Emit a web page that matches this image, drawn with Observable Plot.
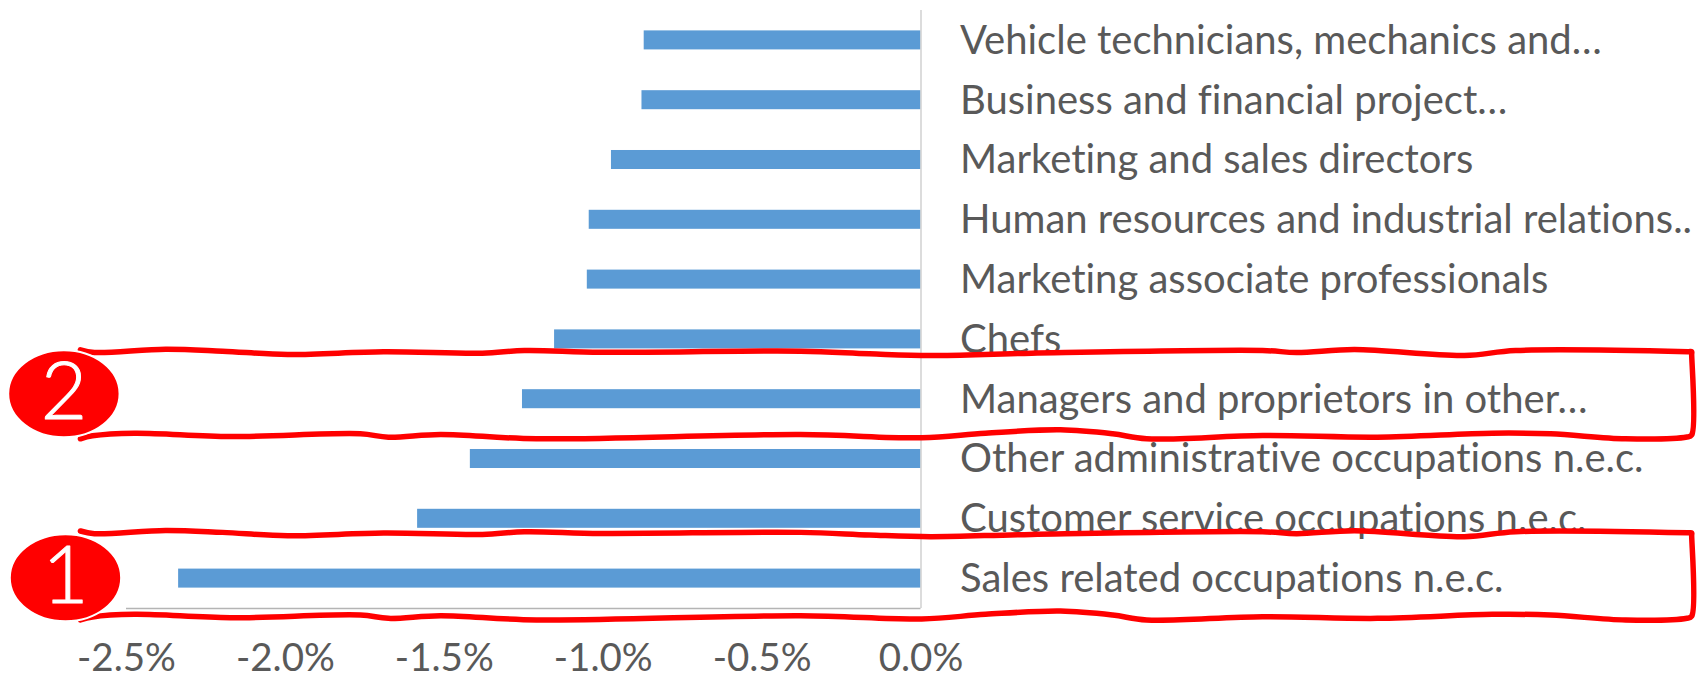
<!DOCTYPE html>
<html>
<head>
<meta charset="utf-8">
<style>html,body{margin:0;padding:0;background:#fff;overflow:hidden}</style>
<script src="https://cdn.jsdelivr.net/npm/d3@7"></script>
<script src="https://cdn.jsdelivr.net/npm/@observablehq/plot@0.6"></script>
</head>
<body>
<script>
const occupations = [
  "Vehicle technicians, mechanics and…",
  "Business and financial project…",
  "Marketing and sales directors",
  "Human resources and industrial relations..",
  "Marketing associate professionals",
  "Chefs",
  "Managers and proprietors in other…",
  "Other administrative occupations n.e.c.",
  "Customer service occupations n.e.c.",
  "Sales related occupations n.e.c."
];
const changes = [-0.871, -0.878, -0.974, -1.044, -1.05, -1.153, -1.254, -1.418, -1.584, -2.336];
const ticks = [-2.5, -2, -1.5, -1, -0.5, 0];

// Hand-drawn highlight outline, in chart units (percent, row)
const outlineX = [-2.645,-2.601,-2.377,-2.198,-1.993,-1.691,-1.38,-1.248,-1.008,-0.379,-0.162,0.03,0.348,1.075,1.182,1.364,1.71,1.871,2.415,2.425,2.425,2.425,2.41,2.217,1.981,1.798,1.436,1.075,0.71,0.603,0.439,0.203,0.002,-0.379,-1.21,-1.512,-1.676,-1.764,-2.173,-2.475,-2.607,-2.645];
const outlineY = [5.174,5.219,5.164,5.197,5.253,5.207,5.231,5.186,5.214,5.197,5.241,5.269,5.231,5.186,5.219,5.169,5.269,5.186,5.205,5.207,5.25,6.6,6.632,6.662,6.579,6.568,6.635,6.607,6.662,6.579,6.512,6.568,6.645,6.59,6.662,6.59,6.635,6.579,6.624,6.568,6.612,6.662];
const highlightShift = [0, 3.03];
const badges = [
  {label: "2", x: -2.697, y: 5.91},
  {label: "1", x: -2.692, y: 8.987}
];

const rows = occupations.map((name, i) => ({name, value: changes[i], row: i}));
const outlines = highlightShift.flatMap((shift, id) =>
  outlineX.map((x, i) => ({id, x, y: outlineY[i] + shift})));

const ellipse = {
  draw(ctx, size) {
    const ry = Math.sqrt(size / Math.PI), rx = ry * 1.28, k = 0.5523;
    ctx.moveTo(rx, 0);
    ctx.bezierCurveTo(rx, ry * k, rx * k, ry, 0, ry);
    ctx.bezierCurveTo(-rx * k, ry, -rx, ry * k, -rx, 0);
    ctx.bezierCurveTo(-rx, -ry * k, -rx * k, -ry, 0, -ry);
    ctx.bezierCurveTo(rx * k, -ry, rx, -ry * k, rx, 0);
    ctx.closePath();
  }
};

const chart = Plot.plot({
  width: 1705,
  height: 678,
  marginTop: 10,
  marginBottom: 70,
  marginLeft: 126,
  marginRight: 784.5,
  style: {background: "#fff", fontFamily: "Lato, sans-serif", overflow: "hidden", fontVariantLigatures: "none"},
  x: {domain: [-2.5, 0]},
  y: {domain: [-0.5, 9.5], reverse: true, axis: null},
  marks: [
    Plot.rectX(rows, {x1: "value", x2: 0, y1: d => d.row - 0.159, y2: d => d.row + 0.159, fill: "#5b9bd5"}),
    Plot.ruleX([0], {stroke: "#d0d0d0", strokeWidth: 1.5}),
    Plot.ruleY([9.5], {x1: -2.5, x2: 0, stroke: "#b4b4b4", strokeWidth: 1.5}),
    Plot.axisX(ticks, {
      anchor: "bottom", tickSize: 0, tickPadding: 35, label: null,
      tickFormat: d => d.toFixed(1) + "%", fontSize: 38.5, fill: "#595959", textStroke: "none"
    }),
    Plot.text(rows, {x: 0, y: "row", text: "name", dx: 39, dy: 0.5, textAnchor: "start", fontSize: 40, fill: "#595959", lineAnchor: "middle"}),
    Plot.line(outlines, {x: "x", y: "y", z: "id", curve: "catmull-rom", stroke: "#ff0000", strokeWidth: 5.5, strokeLinejoin: "round"}),
    Plot.dot(badges, {x: "x", y: "y", r: 43.5, symbol: ellipse, fill: "#ff0000", stroke: "#fff", strokeWidth: 2}),
    Plot.text(badges, {x: "x", y: "y", text: "label", fontSize: 80, fill: "#fff", fontWeight: 300, stroke: "#fff", strokeWidth: 1, lineAnchor: "middle"})
  ]
});
document.body.appendChild(chart);
</script>
</body>
</html>
